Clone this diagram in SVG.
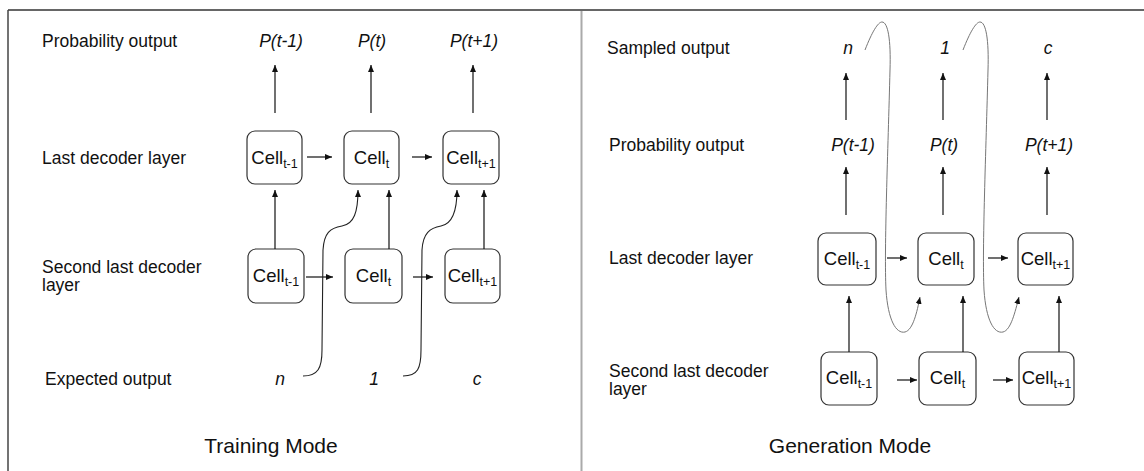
<svg xmlns="http://www.w3.org/2000/svg" width="1144" height="471" viewBox="0 0 1144 471">
<style>
text{font-family:"Liberation Sans",Arial,sans-serif;fill:#111}
.lbl{font-size:17.5px}
.it{font-size:17.5px;font-style:italic;text-anchor:middle}
.ttl{font-size:21px;text-anchor:middle}
.cell rect{fill:#fff;stroke:#333;stroke-width:1.2}
.cell text{font-size:18.5px;text-anchor:middle}
.sub{font-size:12.5px}
.ar{stroke:#111;stroke-width:1.2;fill:none;marker-end:url(#ah)}
.cv{stroke:#222;stroke-width:1.1;fill:none;marker-end:url(#ah)}
.gc{stroke:#777;stroke-width:1;fill:none;marker-end:url(#ah)}
</style>
<defs>
<marker id="ah" markerUnits="userSpaceOnUse" markerWidth="8" markerHeight="8" refX="7" refY="3" orient="auto">
<path d="M0,0 L7,3 L0,6 Z" fill="#111"/>
</marker>
</defs>
<rect width="1144" height="471" fill="#fff"/>
<g id="frame">
<line x1="8" y1="10" x2="1144" y2="10" stroke="#333" stroke-width="1.5"/>
<line x1="8" y1="10" x2="8" y2="471" stroke="#444" stroke-width="1.5"/>
<line x1="581.5" y1="11" x2="581.5" y2="471" stroke="#aaa" stroke-width="2"/>
</g>
<g id="labels">
<text class="lbl" x="42" y="47">Probability output</text>
<text class="lbl" x="42" y="164">Last decoder layer</text>
<text class="lbl" x="42" y="273">Second last decoder</text>
<text class="lbl" x="42" y="291">layer</text>
<text class="lbl" x="45" y="385">Expected output</text>
<text class="ttl" x="271" y="453">Training Mode</text>
<text class="it" x="281" y="47">P(t-1)</text>
<text class="it" x="372" y="47">P(t)</text>
<text class="it" x="474" y="47">P(t+1)</text>
<text class="it" x="280" y="385">n</text>
<text class="it" x="374" y="385">1</text>
<text class="it" x="477" y="385">c</text>
<text class="lbl" x="607" y="54">Sampled output</text>
<text class="lbl" x="609" y="151">Probability output</text>
<text class="lbl" x="609" y="264">Last decoder layer</text>
<text class="lbl" x="609" y="377">Second last decoder</text>
<text class="lbl" x="609" y="395">layer</text>
<text class="ttl" x="850" y="453">Generation Mode</text>
<text class="it" x="848" y="54">n</text>
<text class="it" x="945" y="54">1</text>
<text class="it" x="1048" y="54">c</text>
<text class="it" x="853" y="151">P(t-1)</text>
<text class="it" x="944" y="151">P(t)</text>
<text class="it" x="1049" y="151">P(t+1)</text>
</g>
<g id="tr1a" class="cell"><rect x="247" y="131" width="55" height="53" rx="8"/><text x="274.5" y="164">Cell<tspan class="sub" dy="4">t-1</tspan></text></g>
<g id="tr1b" class="cell"><rect x="344" y="131" width="55" height="53" rx="8"/><text x="371.5" y="164">Cell<tspan class="sub" dy="4">t</tspan></text></g>
<g id="tr1c" class="cell"><rect x="443" y="131" width="56" height="53" rx="8"/><text x="471" y="164">Cell<tspan class="sub" dy="4">t+1</tspan></text></g>
<g id="tr2a" class="cell"><rect x="248" y="249" width="56" height="54" rx="8"/><text x="276" y="282">Cell<tspan class="sub" dy="4">t-1</tspan></text></g>
<g id="tr2b" class="cell"><rect x="345" y="249" width="57" height="54" rx="8"/><text x="373.5" y="282">Cell<tspan class="sub" dy="4">t</tspan></text></g>
<g id="tr2c" class="cell"><rect x="445" y="249" width="55" height="54" rx="8"/><text x="472.5" y="282">Cell<tspan class="sub" dy="4">t+1</tspan></text></g>
<g id="gr1a" class="cell"><rect x="818" y="233" width="58" height="52" rx="8"/><text x="847" y="265">Cell<tspan class="sub" dy="4">t-1</tspan></text></g>
<g id="gr1b" class="cell"><rect x="918" y="233" width="56" height="52" rx="8"/><text x="946" y="265">Cell<tspan class="sub" dy="4">t</tspan></text></g>
<g id="gr1c" class="cell"><rect x="1018" y="233" width="55" height="52" rx="8"/><text x="1045.5" y="265">Cell<tspan class="sub" dy="4">t+1</tspan></text></g>
<g id="gr2a" class="cell"><rect x="821" y="352" width="56" height="53" rx="8"/><text x="849" y="384">Cell<tspan class="sub" dy="4">t-1</tspan></text></g>
<g id="gr2b" class="cell"><rect x="919" y="352" width="57" height="53" rx="8"/><text x="947.5" y="384">Cell<tspan class="sub" dy="4">t</tspan></text></g>
<g id="gr2c" class="cell"><rect x="1019" y="352" width="55" height="53" rx="8"/><text x="1046.5" y="384">Cell<tspan class="sub" dy="4">t+1</tspan></text></g>
<g id="connectors">
<path class="ar" d="M275,113 V65"/>
<path class="ar" d="M371,113 V65"/>
<path class="ar" d="M473,113 V65"/>
<path class="ar" d="M307,157 H332"/>
<path class="ar" d="M412,157 H432"/>
<path class="ar" d="M275,249 V190"/>
<path class="ar" d="M389,249 V190"/>
<path class="ar" d="M484,249 V190"/>
<path class="ar" d="M306,277 H333"/>
<path class="ar" d="M413,277 H433"/>
<path class="cv" d="M303,376 C318,376 322,368 322,350 L323,250 C324,233 330,228 342,226 C354,224 358,212 358,190"/>
<path class="cv" d="M403,376 C418,376 421,368 421,350 L422,250 C423,233 430,228 441,226 C452,224 457,212 457,190"/>
<path class="ar" d="M846,120 V73"/>
<path class="ar" d="M943,120 V73"/>
<path class="ar" d="M1047,120 V73"/>
<path class="ar" d="M846,215 V167"/>
<path class="ar" d="M943,215 V167"/>
<path class="ar" d="M1047,215 V167"/>
<path class="ar" d="M887,258 H907"/>
<path class="ar" d="M988,258 H1008"/>
<path class="ar" d="M849,352 V296"/>
<path class="ar" d="M963,352 V296"/>
<path class="ar" d="M1059,352 V296"/>
<path class="ar" d="M897,380 H917"/>
<path class="ar" d="M993,380 H1013"/>
<path class="gc" d="M865,50 C872,32 878,22 882,22 C888,22 891,40 890,70 C888,150 884,250 886,290 C888,320 896,334 905,332 C913,330 917,312 920,297"/>
<path class="gc" d="M963,50 C970,32 976,22 980,22 C986,22 989,40 988,70 C986,150 982,250 984,290 C986,320 994,334 1003,332 C1011,330 1015,312 1019,297"/>
</g>
</svg>
